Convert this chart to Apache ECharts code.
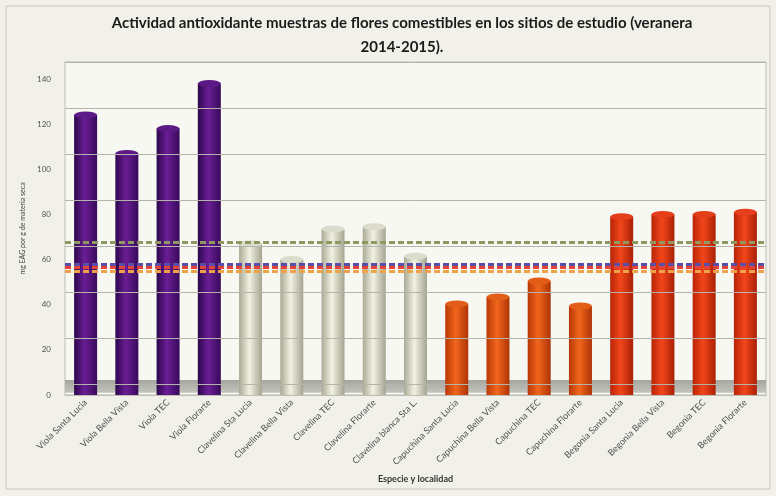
<!DOCTYPE html>
<html><head><meta charset="utf-8">
<script src="https://cdn.jsdelivr.net/npm/echarts@6/dist/echarts.min.js"></script>
<style>html,body{margin:0;padding:0;background:#f1f0e9}#c{width:776px;height:496px}</style>
</head><body><div id="c"></div>
<script>
const categories = ['Viola Santa Lucia','Viola Bella Vista','Viola TEC','Viola Florarte',
  'Clavelina Sta Lucia','Clavelina Bella Vista','Clavelina TEC','Clavelina Florarte','Clavelina blanca Sta L.',
  'Capuchina Santa Lucia','Capuchina Bella Vista','Capuchina TEC','Capuchina Florarte',
  'Begonia Santa Lucia','Begonia Bella Vista','Begonia TEC','Begonia Florarte'];
const values = [124,107,118,138, 67,60,73.5,74.5,61.5, 40.3,43.4,50.5,39.4, 79,80,80,81];
const groups = [0,0,0,0, 1,1,1,1,1, 2,2,2,2, 3,3,3,3];
const refLines = [
  {name:'green', value:67.8},
  {name:'blue', value:58},
  {name:'red', value:56.6},
  {name:'orange', value:55}
];
const yTicks = [0,20,40,60,80,100,120,140];

const barGrad = [
  ['#2c064c','#6a1e94','#380a5a'],
  ['#a9a994','#f2f2e4','#a4a490'],
  ['#b83806','#f2661c','#ad3406'],
  ['#b82408','#f2461a','#aa2006']
];
const capCol = ['#5c1a86','#dcdccc','#e25e18','#e43e1a'];
const refCol = {green:'#8c9a62', blue:'#5a4ea8', red:'#e2443a', orange:'#f0a24a'};

function grad(g){
  return {type:'linear',x:0,y:0,x2:1,y2:0,colorStops:[
    {offset:0,color:barGrad[g][0]},{offset:0.45,color:barGrad[g][1]},{offset:1,color:barGrad[g][2]}]};
}

const chart = echarts.init(document.getElementById('c'));
chart.setOption({
  backgroundColor:'#f1f0e9',
  animation:false,
  title:{text:'Actividad antioxidante muestras de flores comestibles en los sitios de estudio (veranera\n2014-2015).',
    left:397, top:6, textAlign:'center',
    textStyle:{fontFamily:'Lato',fontWeight:'bold',fontSize:15,color:'#1a1a1a',lineHeight:24}},
  graphic:[{type:'rect',shape:{x:6,y:6,width:764,height:483},style:{fill:'none',stroke:'#c8c8c0',lineWidth:1},silent:true}],
  grid:{left:65,right:10,top:62,bottom:101,show:true,backgroundColor:'#f8f8f3',borderColor:'#bdbdb5',borderWidth:1},
  xAxis:{type:'category',data:categories,
    axisLine:{show:true,lineStyle:{color:'#bdbdb5'}},axisTick:{show:false},
    axisLabel:{rotate:45,fontSize:9,color:'#505050',fontFamily:'Lato',margin:6,interval:0},
    name:'Especie y localidad',nameLocation:'middle',nameGap:80,
    nameTextStyle:{fontSize:9,fontWeight:'bold',color:'#333',fontFamily:'Lato'}},
  yAxis:[
    {type:'value',min:0,max:147.5,interval:20,
      axisLine:{show:false},axisTick:{show:false},splitLine:{show:false},
      axisLabel:{fontSize:8,color:'#555',fontFamily:'Lato',margin:14,showMaxLabel:false},
      name:'mg EAG por g de materia seca',nameLocation:'middle',nameGap:34,nameRotate:90,
      nameTextStyle:{fontSize:7,color:'#444',fontFamily:'Lato'}},
    {type:'value',min:-4.78,max:140,show:false,splitLine:{show:false}}
  ],
  series:[
    {type:'line',yAxisIndex:1,data:[],silent:true,
      markLine:{symbol:'none',silent:true,label:{show:false},
        lineStyle:{color:'#b4b4ac',width:1,type:'solid'},
        data:yTicks.map(v=>({yAxis:v}))}},
    {type:'line',yAxisIndex:0,data:[],silent:true,
      markArea:{silent:true,itemStyle:{color:{type:'linear',x:0,y:0,x2:0,y2:1,colorStops:[{offset:0,color:'#a6a6a0'},{offset:1,color:'#c4c4be'}]}},
        data:[[{yAxis:1},{yAxis:6.6}]]}},
    {type:'bar',yAxisIndex:0,barWidth:23,z:3,
      data:values.map((v,i)=>({value:v,itemStyle:{color:grad(groups[i])}}))},
    {type:'pictorialBar',yAxisIndex:0,symbol:'circle',symbolSize:[23,7],symbolPosition:'end',symbolOffset:[0,'-50%'],z:4,
      data:values.map((v,i)=>({value:v,itemStyle:{color:capCol[groups[i]]}}))},
    {type:'line',yAxisIndex:0,data:[],silent:true,z:6,
      markLine:{symbol:'none',silent:true,label:{show:false},
        data:refLines.map(r=>({yAxis:r.value,lineStyle:{color:refCol[r.name],width:3,type:[6,3]}}))}}
  ]
});
</script></body></html>
